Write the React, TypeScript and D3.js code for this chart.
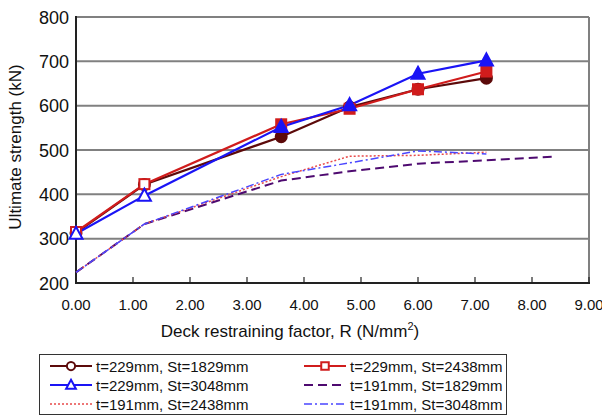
import React from 'react';
import * as d3 from 'd3';

// deck restraining factor R (N/mm2)
const rFactor = [0, 1.2, 3.6, 4.8, 6.0, 7.2];
const rFactorLong = [0, 1.2, 3.6, 4.8, 6.0, 7.2, 8.4];

// ultimate strength (kN)
const t229St1829 = [313, 422, 530, 597, 637, 662];
const t229St2438 = [315, 423, 558, 593, 637, 677];
const t229St3048 = [311, 397, 552, 601, 672, 702];
const t191St1829 = [224, 333, 431, 452, 469, 477, 485];
const t191St2438 = [224, 333, 440, 486, 488, 495];
const t191St3048 = [224, 333, 445, 471, 498, 491];

const xTicks = [0, 1, 2, 3, 4, 5, 6, 7, 8, 9];
const yTicks = [200, 300, 400, 500, 600, 700, 800];

type Series = {
  label: string;
  xs: number[];
  ys: number[];
  color: string;
  width: number;
  dash?: string;
  marker?: 'circle' | 'square' | 'triangle';
};

const series: Series[] = [
  { label: 't=229mm, St=1829mm', xs: rFactor, ys: t229St1829, color: '#5c0a0a', width: 2.2, marker: 'circle' },
  { label: 't=229mm, St=2438mm', xs: rFactor, ys: t229St2438, color: '#d01c1c', width: 2.2, marker: 'square' },
  { label: 't=229mm, St=3048mm', xs: rFactor, ys: t229St3048, color: '#1a14f5', width: 2.2, marker: 'triangle' },
  { label: 't=191mm, St=1829mm', xs: rFactorLong, ys: t191St1829, color: '#4e0a70', width: 2, dash: '9 5' },
  { label: 't=191mm, St=2438mm', xs: rFactor, ys: t191St2438, color: '#e84a4a', width: 1.5, dash: '2 2' },
  { label: 't=191mm, St=3048mm', xs: rFactor, ys: t191St3048, color: '#4a46ff', width: 1.5, dash: '8 3 2 3' },
];

const FONT = '"Liberation Sans", Arial, sans-serif';

function Marker({ kind, x, y, color, fill, k = 1 }: { kind: string; x: number; y: number; color: string; fill: string; k?: number }) {
  if (kind === 'circle') return <circle cx={x} cy={y} r={5.5 * k} fill={fill} stroke={color} strokeWidth={2} />;
  if (kind === 'square') return <rect x={x - 5 * k} y={y - 5 * k} width={10 * k} height={10 * k} fill={fill} stroke={color} strokeWidth={2} />;
  const p = d3.path();
  p.moveTo(x, y - 7 * k);
  p.lineTo(x + 6.5 * k, y + 5 * k);
  p.lineTo(x - 6.5 * k, y + 5 * k);
  p.closePath();
  return <path d={p.toString()} fill={fill} stroke={color} strokeWidth={2} />;
}

export default function App() {
  const W = 602;
  const H = 416;
  const left = 76, right = 589, top = 17, bottom = 283;

  const x = d3.scaleLinear().domain([0, 9]).range([left, right]);
  const y = d3.scaleLinear().domain([200, 800]).range([bottom, top]);

  const line = (s: Series) =>
    d3.line<number>().x((_, i) => x(s.xs[i])).y((d) => y(d))(s.ys) || '';

  const legendCols = [50, 304];
  const legendRows = [366, 385, 404];

  return (
    <svg width={W} height={H} style={{ position: 'absolute', left: 0, top: 0, background: '#fff' }} fontFamily={FONT}>
      {/* grid */}
      {yTicks.slice(1).map((t) => (
        <line key={t} x1={left} x2={right} y1={y(t)} y2={y(t)} stroke="#808080" strokeWidth={2} />
      ))}
      <line x1={right} x2={right} y1={top} y2={bottom} stroke="#808080" strokeWidth={2} />

      {/* axes */}
      <line x1={left} x2={left} y1={top - 1} y2={bottom + 1} stroke="#222" strokeWidth={2} />
      <line x1={left - 1} x2={right + 1} y1={bottom} y2={bottom} stroke="#222" strokeWidth={2} />
      {xTicks.slice(1).map((t) => (
        <line key={t} x1={x(t)} x2={x(t)} y1={bottom} y2={bottom - 6} stroke="#222" strokeWidth={1.2} />
      ))}

      {/* tick labels */}
      {yTicks.map((t) => (
        <text key={t} x={left - 7} y={y(t) + 6.5} textAnchor="end" fontSize={18} fill="#111">{t}</text>
      ))}
      {xTicks.map((t) => (
        <text key={t} x={x(t)} y={bottom + 27} textAnchor="middle" fontSize={15} fill="#111">{t.toFixed(2)}</text>
      ))}

      {/* axis titles */}
      <text transform={`translate(21,${(top + bottom) / 2 - 3}) rotate(-90)`} textAnchor="middle" fontSize={17} fill="#111">
        Ultimate strength (kN)
      </text>
      <text x={290} y={337} textAnchor="middle" fontSize={17} fill="#111">
        Deck restraining factor, R (N/mm<tspan fontSize={11} dy={-7}>2</tspan><tspan dy={7}>)</tspan>
      </text>

      {/* series */}
      {series.map((s) => (
        <path key={s.label} d={line(s)} fill="none" stroke={s.color} strokeWidth={s.width} strokeDasharray={s.dash} />
      ))}
      {series.filter((s) => s.marker).map((s) =>
        s.ys.map((v, i) => (
          <Marker key={s.label + i} kind={s.marker!} x={x(s.xs[i])} y={y(v)} color={s.color} fill={i < 2 ? '#fff' : s.color} />
        ))
      )}

      {/* legend */}
      <rect x={39.5} y={354.5} width={467} height={60} fill="#fff" stroke="#333" strokeWidth={1} />
      {series.map((s, i) => {
        const cx = legendCols[i % 2];
        const cy = legendRows[Math.floor(i / 2)];
        return (
          <g key={s.label}>
            <line x1={cx} x2={cx + 42} y1={cy} y2={cy} stroke={s.color} strokeWidth={s.marker ? 2 : s.width} strokeDasharray={s.dash} />
            {s.marker && <Marker kind={s.marker} x={cx + 21} y={cy} color={s.color} fill="#fff" k={0.75} />}
            <text x={cx + 46} y={cy + 5.5} fontSize={15} fill="#111">{s.label}</text>
          </g>
        );
      })}
    </svg>
  );
}
